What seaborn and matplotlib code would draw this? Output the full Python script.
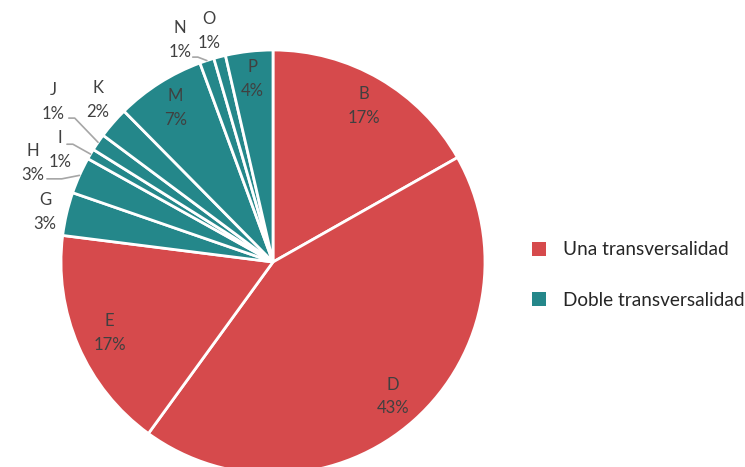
import matplotlib
matplotlib.use("Agg")
import matplotlib.pyplot as plt
from matplotlib.patches import Patch
import numpy as np
import seaborn as sns

# Data
labels = ["B", "D", "E", "G", "H", "I", "J", "K", "M", "N", "O", "P"]
values = [16.8, 43.2, 17.0, 3.3, 2.8, 0.8, 1.3, 2.4, 6.8, 1.1, 0.9, 3.6]
groups = ["Una transversalidad"] * 3 + ["Doble transversalidad"] * 9
group_names = ["Una transversalidad", "Doble transversalidad"]

sns.set_theme(style="white")
plt.rcParams["font.family"] = ["Lato", "DejaVu Sans"]

palette = {"Una transversalidad": "#D64A4C", "Doble transversalidad": "#24878A"}
colors = [palette[g] for g in groups]

# label placement: radius factor, angle shift (deg), leader (dx, dy, flat run) or None
place = {
    "B": (0.85, 0, None), "D": (0.85, 0, None), "E": (0.84, 0, None),
    "G": (1.10, 0.7, None),
    "H": (1.225, 1.7, (0.066, -0.075, 0.07)),
    "I": (1.135, 2.9, (0.033, 0.028, 0.028)),
    "J": (1.283, -1.6, (0.075, -0.075, 0.028)),
    "K": (1.125, -1.8, None), "M": (0.86, 0, None),
    "N": (1.135, 4.6, (0.061, -0.080, 0.024)),
    "O": (1.131, 0.9, None), "P": (0.87, 0, None),
}

fig = plt.figure(figsize=(7.45, 4.67), dpi=100)
ax = fig.add_axes([61 / 745, -7 / 467, 424 / 745, 424 / 467])

wedges, _ = ax.pie(values, colors=colors, startangle=90, counterclock=False,
                   wedgeprops=dict(edgecolor="white", linewidth=2))
ax.set_xlim(-1, 1)
ax.set_ylim(-1, 1)
ax.set_aspect("equal")
ax.axis("off")

total = sum(values)
for w, lab, v in zip(wedges, labels, values):
    mid = (w.theta1 + w.theta2) / 2
    r, shift, leader = place[lab]
    ang = np.deg2rad(mid + shift)
    x, y = r * np.cos(ang), r * np.sin(ang)
    ax.text(x, y, f"{lab}\n{v / total * 100:.0f}%", ha="center", va="center",
            fontsize=12, color="#404040", linespacing=1.6, clip_on=False)
    if leader:
        dx, dy, run = leader
        ea = np.deg2rad(mid)
        ex, ey = np.cos(ea), np.sin(ea)
        sx, sy = x + dx, y + dy
        ax.plot([sx, sx + run, ex], [sy, sy, ey], color="#A6A6A6", lw=1.2, clip_on=False)

handles = [Patch(facecolor=palette[g], edgecolor="none") for g in group_names]
fig.legend(handles, group_names, loc="center left", bbox_to_anchor=(532 / 745, 1 - 275 / 467),
           frameon=False, fontsize=13.7, handlelength=0.75, handleheight=0.75, borderpad=0,
           borderaxespad=0, labelspacing=1.75, handletextpad=0.9, labelcolor="#262626")

fig.savefig("out.png", dpi=100)
